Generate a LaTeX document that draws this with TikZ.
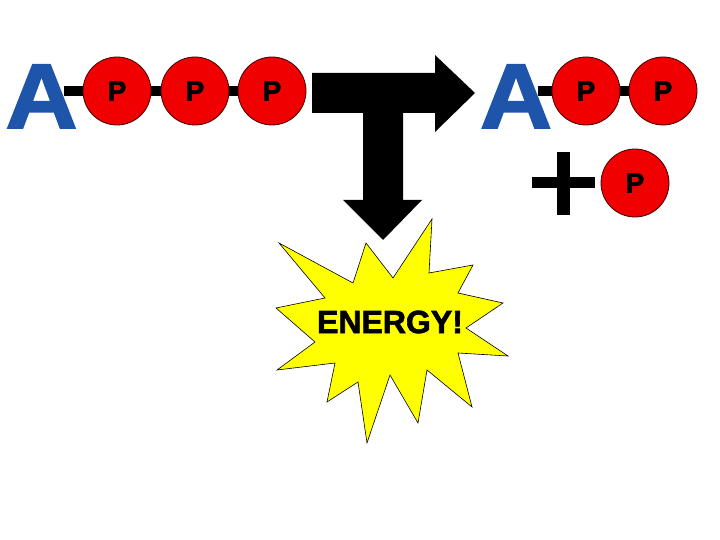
\documentclass[tikz,border=0pt]{standalone}
\usepackage{fontspec}
\setmainfont{Liberation Sans}
\newfontfamily\heavyfont[FakeBold=2]{Liberation Sans Bold}
\usepackage{tikz}
\usetikzlibrary{positioning}
\usetikzlibrary{backgrounds}
\usepackage{xcolor}
\definecolor{adenblue}{RGB}{30,85,170}
\definecolor{phosred}{RGB}{240,0,0}
\definecolor{burstyellow}{RGB}{255,255,0}

\begin{document}
\begin{tikzpicture}[x=1pt, y=-1pt,
		phos/.style={circle, fill=phosred, draw=black!75!red, line width=0.8pt, minimum size=68pt, inner sep=0pt, font=\fontsize{28}{28}\selectfont\heavyfont},
		aden/.style={text=adenblue, inner sep=0pt, anchor=base, xscale=1.08, font=\fontsize{92}{92}\selectfont\heavyfont},
		bond/.style={black, line width=10pt}]
	\useasboundingbox (0,0) rectangle (720,540);
	% ATP
	\node[aden] (a1) at (41.5, 128) {A};
	\node[phos] (p1) at (117, 91) {P};
	\node[phos] (p2) at (195, 91) {P};
	\node[phos] (p3) at (272, 91) {P};
	% ADP + P
	\node[aden] (a2) at (516, 128) {A};
	\node[phos] (q1) at (586, 91) {P};
	\node[phos] (q2) at (663, 91) {P};
	\node[phos] (q3) at (635, 183) {P};
	\begin{scope}[on background layer]
		\draw[bond] ([xshift=-14pt]a1.east |- p1.center) -- (p3.center);
		\draw[bond] ([xshift=-14pt]a2.east |- q1.center) -- (q2.center);
	\end{scope}
	\fill[black] (557, 152) rectangle (570, 215);
	\fill[black] (532, 177) rectangle (595, 188);
	% T arrow
	\fill[black] (312, 73)--(435, 73)--(435, 55)--(475, 93)--(435, 132)--(435, 113)--(403, 113)--(403, 200)--(422, 200)--(383, 240)--(343, 200)--(363, 200)--(363, 113)--(312, 113)--cycle;
	% burst
	\filldraw[fill=burstyellow, draw=black, line width=0.6pt] (279, 243)--(353, 283)--(366, 243)--(393, 278)--(432, 219)--(429, 273)--(473, 265)--(458, 293)--(503, 303)--(466, 328)--(508, 356)--(458, 353)--(472, 407)--(427, 370)--(418, 423)--(390, 375)--(367, 443)--(358, 382)--(327, 402)--(335, 363)--(277, 370)--(315, 342)--(276, 308)--(325, 298)--cycle;
	\node[inner sep=0pt, font=\fontsize{32}{32}\selectfont\heavyfont] (energy) at (390, 322) {ENERGY!};
\end{tikzpicture}
\end{document}
